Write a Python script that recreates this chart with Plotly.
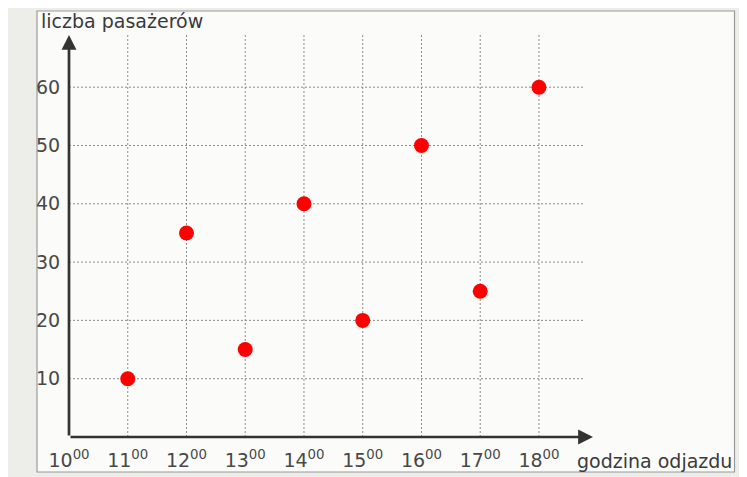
import plotly.graph_objects as go

# data
hours = [11, 12, 13, 14, 15, 16, 17, 18]
passengers = [10, 35, 15, 40, 20, 50, 25, 60]
x_ticks = [10, 11, 12, 13, 14, 15, 16, 17, 18]
x_tick_labels = [f"{h}<sup>00</sup>" for h in x_ticks]
y_ticks = [10, 20, 30, 40, 50, 60]
y_tick_labels = [str(v) for v in y_ticks]
x_title = "godzina odjazdu"
y_title = "liczba pasażerów"

OFF = 8  # page body margin
W, H = 747 - OFF, 477 - OFF
L, R, T, B = 69 - OFF, 154, 35 - OFF, 40
PW, PH = W - L - R, H - T - B
X_MAX, Y_MAX = 18.92, 68.95
GRID_X_END = 18.75


def px(xp):
    return (xp - OFF - L) / PW


def py(yp):
    return (H - B - (yp - OFF)) / PH


FONT = "DejaVu Sans"
TXT = "#484848"
AX = "#333333"
FS = 19
GRID = dict(color="#8c8c8c", width=1, dash="2px,2px")

fig = go.Figure()
fig.add_trace(go.Scatter(
    x=hours, y=passengers, mode="markers",
    marker=dict(color="#ff0000", size=15, line=dict(width=0)),
    showlegend=False, hoverinfo="skip",
))

shapes = [
    dict(type="rect", xref="paper", yref="paper", x0=px(37), x1=px(734.5), y0=py(472), y1=py(11),
         fillcolor="#fbfcfa", line=dict(color="#9a9a9a", width=1.2), layer="below"),
]
for h in x_ticks[1:]:
    shapes.append(dict(type="line", xref="x", yref="y", x0=h, x1=h, y0=0, y1=Y_MAX,
                       line=GRID, layer="below"))
for v in y_ticks:
    shapes.append(dict(type="line", xref="x", yref="y", x0=x_ticks[0], x1=GRID_X_END, y0=v, y1=v,
                       line=GRID, layer="below"))

annotations = [
    dict(x=X_MAX, y=0, ax=x_ticks[0], ay=0, xref="x", yref="y", axref="x", ayref="y",
         showarrow=True, arrowhead=2, arrowsize=1.1, arrowwidth=2.7, arrowcolor=AX, text="", standoff=0),
    dict(x=x_ticks[0], y=Y_MAX, ax=x_ticks[0], ay=0, xref="x", yref="y", axref="x", ayref="y",
         showarrow=True, arrowhead=2, arrowsize=1.1, arrowwidth=2.7, arrowcolor=AX, text="", standoff=0),
    dict(x=px(39), y=py(21), xref="paper", yref="paper", xanchor="left", yanchor="middle",
         text=y_title, showarrow=False, font=dict(family=FONT, size=FS, color="#3a3a3a")),
    dict(x=px(734), y=py(461), xref="paper", yref="paper", xanchor="right", yanchor="middle",
         text=x_title, showarrow=False, font=dict(family=FONT, size=FS, color="#3a3a3a")),
]

fig.update_layout(
    width=W, height=H,
    margin=dict(l=L, r=R, t=T, b=B, autoexpand=False),
    paper_bgcolor="#ededea",
    plot_bgcolor="rgba(0,0,0,0)",
    shapes=shapes,
    annotations=annotations,
    xaxis=dict(range=[x_ticks[0], X_MAX], tickmode="array", tickvals=x_ticks, ticktext=x_tick_labels,
               showgrid=False, zeroline=False, showline=False,
               ticks="outside", ticklen=6, tickcolor="rgba(0,0,0,0)",
               tickfont=dict(family=FONT, size=FS, color=TXT)),
    yaxis=dict(range=[0, Y_MAX], tickmode="array", tickvals=y_ticks, ticktext=y_tick_labels,
               showgrid=False, zeroline=False, showline=False,
               ticks="outside", ticklen=4, tickcolor="rgba(0,0,0,0)",
               tickfont=dict(family=FONT, size=FS, color=TXT)),
)

fig.write_html("out.html")
